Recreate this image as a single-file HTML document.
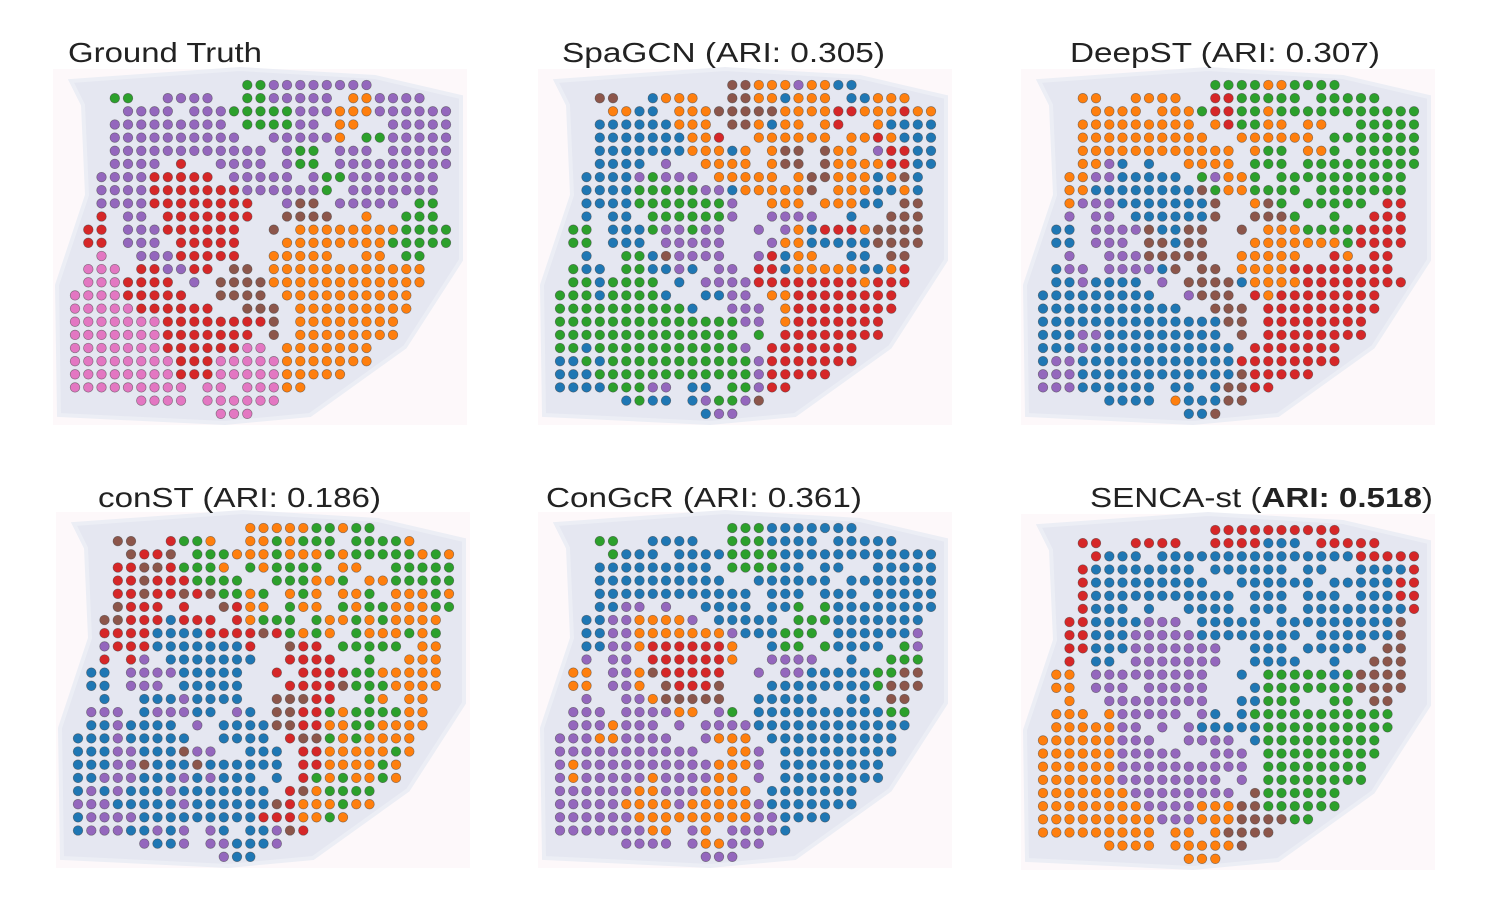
<!DOCTYPE html>
<html><head><meta charset="utf-8"><style>
html,body{margin:0;padding:0;background:#fff;width:1501px;height:898px;overflow:hidden}
svg{display:block}
text{font-family:"Liberation Sans",Arial,sans-serif;fill:#222}
</style></head><body>
<svg id="fig" width="1501" height="898" viewBox="0 0 1501 898" xmlns="http://www.w3.org/2000/svg">
<g id="titles">
<text x="68" y="62" font-size="28" textLength="194" lengthAdjust="spacingAndGlyphs">Ground Truth</text>
<text x="562" y="62" font-size="28" textLength="323" lengthAdjust="spacingAndGlyphs">SpaGCN (ARI: 0.305)</text>
<text x="1070" y="62" font-size="28" textLength="310" lengthAdjust="spacingAndGlyphs">DeepST (ARI: 0.307)</text>
<text x="98" y="507" font-size="28" textLength="283" lengthAdjust="spacingAndGlyphs">conST (ARI: 0.186)</text>
<text x="546" y="507" font-size="28" textLength="316" lengthAdjust="spacingAndGlyphs">ConGcR (ARI: 0.361)</text>
<text x="1090" y="507" font-size="28" textLength="343" lengthAdjust="spacingAndGlyphs">SENCA-st (<tspan font-weight="bold">ARI: 0.518</tspan>)</text>
</g>
</svg>
<script>
const palette = {b:'#1f77b4',o:'#ff7f0e',g:'#2ca02c',r:'#d62728',p:'#9467bd',n:'#8c564b',k:'#e377c2'};
const panelNames = ['ground-truth','spagcn','deepst','const','congcr','senca-st'];
const groundTruth = [
".............ggpppppppp......",
"...gg..pppp..ggppppp.oopppp...",
"....pppp.pppgggggpppooopppppp",
"...ppppppppp.ggggpp.oo..ppppp",
"...pppppppppp..pppppo.ggppppp",
"...pppppppppppp.pgg.ppp.ppppp",
"...pppp.r..pppp.pgg.ppppppppp",
"..pppprrrrr.ppppp.pggppppppp.",
"..pppprrrrrrrppppppg.ppppppp.",
"..pppprrrrrrrr..pnn.ppppp.gg.",
"..r.pp.rrrrrrr..nnnn..o..ggg.",
".rr.ppprrrrrr..n.oooooooogggg.",
".rr.ppp.rrrrr...ooooooooggggg",
"..k..ppprrrrr..ooooo..oo.gg..",
".kkk.rrpprr.nn.oooooooooooo..",
".kkkrrrr.p.nnnnoooooooooooo..",
"kkkkrrrrr..nnnn.oooooooooo...",
"kkkkkrrrrrr..nnn.ooooooooo...",
"kkkkkkkrrrrrrrrn.oooooooo....",
"kkkkkkkrrrrrrr.n.oooooooo....",
"kkkkkkkrrrrrrkk.ooooooo......",
"kkkkkkkkrrrkkkkkooooooo......",
"kkkkkkkkrrrkkkkkooooo........",
"kkkkkkkkk.kk.kkkoo...........",
".....kkkk.kkkkkk.............",
"...........kkk..............."];
const spagcn = [
".............nnooopoobb......",
"...nn..booo..nnoobooo.bbooo...",
"....oobb.ooonnnnnoooorroooroo",
"...bbbbbbooo.nnoboo.or..obbbb",
"...bbbbbbboor..oooooo.oorobbb",
"...bbbbbbbooobo.onn.noo.prrbb",
"...bbbb.p..oooo.onn.noooorrbb",
"..bbbbpgppp.ooooo.onnooobonb.",
"..bbbbgggggppbooooon.ooobbob.",
"..bbbbgggggggp..ooo.ooobb.nn.",
"..b.bb.ggggggp..pppp..b..nnn.",
".gg.bbbgppgpp..p.pobrrronnnn.",
".gg.bbb.ppppp...poobbbbbnnnn.",
"..b..ggbnpppp..prboo..bb.nn..",
".gbb.ggbbpb.pp.rrbooooobbor..",
".ggbgggg.b.pppprrrrrrrrorrr..",
"gggbggggb..bbpp.oorrrrrrrr...",
"ggggggggggb..ppp.orrrrrrrr...",
"ggggggggggggggpp.orrrrrrr....",
"gggggggggggggg.g.rrrrrrrr....",
"ggbgggggggggggp.rrrrrrr......",
"bbgbgggggggggggprrrrrrr......",
"bbbggggggggggggprrrrr........",
"bbbbgggpp.bb.ggprr...........",
".....bgbb.bpggpn.............",
"...........bpp..............."];
const deepst = [
".............ggggoogggg......",
"...oo..oooo..rrggggg.ggggg...",
"....oooo.ooogrrggoggggggggggg",
"...ooooooooo.orggoo.oo..ggggg",
"...oooooooooo..oooooo.ggggggg",
"...oooooooooooo.ogg.oog.ggggg",
"...oopb.b..oooo.ggg.ggggggggg",
"..ooppbbbbb.gpoog.gggggggggg.",
"..oobbbbbbbbngoogggg.ggggggg.",
"..opppbbbbbbbn..ong.ggggg.rr.",
"..p.pp.bbbbbbn..nnng..g..rrr.",
".bb.ppppnbbnn..n.oooggggrrrr.",
".bb.ppp.nnbnn...ooooooogrrrr.",
"..p..pppnnnnn..ooooo..ro.rr..",
".bpp.ppppbn.nn.oooorrrrrrrr..",
".bbpbbbb.p.nnnnboooorrrrrrrr..",
"bbbbbbbbb..pnnn.rorrrrrrrr...",
"bbbbbbbbbbb..nnn.rrrrrrrrr...",
"bbbbbbbbbbbbbbnn.rrrrrrrr....",
"bbbppbbbbbbbbb.n.rrrrrrrr....",
"bbbpbbbbbbbbbbb.rrrrrrr......",
"bppbbbbbbbbbbbbrrrrrrrr......",
"pppbbbbbbbbbbbbnrrrrr........",
"pppbbbbbb.bb.bnnrr...........",
".....bbbb.obbbnn.............",
"...........bbn..............."];
const conST = [
".............oooooggogg......",
"...nn..rggo..oogoggg.ggggo...",
"....nrrn.gggooogooogogggggogo",
"...rrnnrgggo.gogggg.oo..ggggg",
"...rrnrrrgggg..gggoog.ooggggg",
"...rrnrrnrnggog.ogo.oog.ooogo",
"...nrrr.r..nroo.goo.goggooogg",
"..nnrrrbrrr.roggg.googogoooo.",
"..rrrrbbbbrrrrnrgogo.gooogog.",
"..prrrbbbbbbbr..nrr.ggggg.oo.",
"..r.rp.bbbbbbb..rrrr..g..ooo.",
".bb.ppppbbbbb..r.rrrrggooooo.",
".bb.ppp.bbbbb...rrrrngggoooo.",
"..b..bbbpbbbb..nnnrr..go.oo..",
".ppp.bpppbb.pb.nnrrgoggggoo..",
".bbpbbbb.p.bbbbnnrrooggoooo..",
"bbbpbbbbb..bbbb.rnngogoooo...",
"bbbppbbbnpp..bbb.rrooooogo...",
"bbbppnbbbnbbbbbb.rroooogo....",
"bbpppbbbpbpbbb.b.rgogoogo....",
"bpbpbbbpbbbbbbb.rnogggg......",
"pppbbbbbpbbbbbbnrooogoo......",
"bppppbbbbbbbbbrrroogo........",
"bpppbbpbp.pb.bbpnr...........",
".....pbbp.ppbbbp.............",
"...........pbb..............."];
const conGcR = [
".............gggbbbbbbb......",
"...gg..bbbb..gggbbbb.bbbbb...",
"....gbbb.bbbbggggbbbbbbbbbbbb",
"...bbbbbbbbb.ggggbb.bb..bbbbb",
"...bbbbbbbbbb..bbbbbb.bbbbbbb",
"...bbbbbbbbbbbb.bbb.bbb.bbbbb",
"...bbpp.p..bbbb.bbg.gbbbbbbbb",
"..bbppoooop.bbbbb.gggbbbbbbb.",
"..bbppooooooopbbbggg.bbbbbbp.",
"..bbpporrrrrro..bgg.gbbbb.gp.",
"..p.pp.rrrrrro..pppp..b..ggg.",
".oo.pponrrrrr..p.ppbbbbbggnn.",
".oo.ppo.nrrrn...bbbbbbbbgnnn.",
"..p..pponnnnn..bbbbb..bb.nn..",
".ppp.ppppoo.pg.bbbbbbbbbbgg..",
".pppoppp.p.ppppbbbbbbbbbbbb..",
"pppoopppp..pooo.bbbbbbbbbb...",
"ppppppppppp..oop.bbbbbbbbb...",
"poppppppppppooop.bbbbbbbb....",
"popppppoppppoo.p.bbbbbbbb....",
"ppppppoopppoooo.bbbbbbb......",
"pppppoooopooooopbbbbbbb......",
"ppppppoooooooooppbbbb........",
"pppppppoo.po.ppppb...........",
".....pppp.pooppp.............",
"...........ppp..............."];
const sencaST = [
".............rrrrrrrrrr......",
"...rr..rrrr..rrrrbbb.rrrrr...",
"....rbbb.bbbbbbbbbbbbbbbrrrrr",
"...rbbbbbbbb.bbbbbb.bb..bbbbr",
"...rbbbbbbbbb..bbbbbb.bbbbbrr",
"...rbbbbbbbbbbb.bbb.bbb.bbbrr",
"...rbbb.b..bbbb.bbb.bbbbbbbbr",
"..rrbbbbppp.bbbbb.bbbbbbbbbn.",
"..rrbbbpppppbbbbbbbb.bbbbbbn.",
"..rrbbbppppppp..bbb.bbbbb.nn.",
"..r.bb.ppppppp..bbbb..b..nnn.",
".oo.ppppppppp..b.gggggbgnnnn.",
".oo.ppp.ppppp...bgggggggnnnn.",
"..o..pppppppp..bbggg..gg.nn..",
".ooo.oppppp.pb.bggggggggggg..",
".ooooopp.p.pbbbbbgggggggggg..",
"ooooooppp..pppp.bggggggggg...",
"ooooooppppp..ppp.ggggggggg...",
"oooooopppppppppp.gggggggg....",
"oooooopppppppp.p.gggggggg....",
"ooooooopppppppp.ngggggg......",
"ooooooooppppooonngggggg......",
"ooooooooopppooonnnngg........",
"ooooooooo.oo.onnnn...........",
".....oooo.ooooon.............",
"...........ooo..............."];
const panelData = [groundTruth, spagcn, deepst, conST, conGcR, sencaST];

const NS = 'http://www.w3.org/2000/svg';
const svg = document.getElementById('fig');
const origins = [[75,85],[560,85],[1043,85],[78,528],[560,528],[1043,530]];
const dx = 13.25, dy = 13.15, rad = 4.8;
const xScale = (c, p) => origins[p][0] + c * dx;
const yScale = (r, p) => origins[p][1] + r * dy;
const tissue = [[-4,-4],[80,-10],[165,-16],[300,-8],[386,12],[386,175],[330,262],[235,330],[150,338],[-16,330],[-18,200],[12,110],[8,20]];

panelData.forEach((rows, p) => {
  const g = document.createElementNS(NS, 'g');
  
  
  const [ox, oy] = origins[p];
  const bg = document.createElementNS(NS, 'rect');
  
  
  bg.setAttribute('x', ox - 22); bg.setAttribute('y', oy - 16);
  bg.setAttribute('width', 414); bg.setAttribute('height', 356);
  bg.setAttribute('fill', '#fdf8fa');
  g.appendChild(bg);
  const poly = document.createElementNS(NS, 'polygon');
  
  
  poly.setAttribute('points', tissue.map(t => (ox + t[0]) + ',' + (oy + t[1])).join(' '));
  poly.setAttribute('fill', '#e5e7f1');
  poly.setAttribute('stroke', '#eceef5');
  poly.setAttribute('stroke-width', '4');
  g.appendChild(poly);
  rows.forEach((row, r) => {
    for (let c = 0; c < Math.min(row.length, 29); c++) {
      const ch = row[c];
      if (!palette[ch]) continue;
      const dot = document.createElementNS(NS, 'circle');
      
      
      dot.setAttribute('cx', xScale(c, p).toFixed(1));
      dot.setAttribute('cy', yScale(r, p).toFixed(1));
      dot.setAttribute('r', rad);
      dot.setAttribute('fill', palette[ch]);
      dot.setAttribute('stroke', 'rgba(60,60,60,0.55)');
      dot.setAttribute('stroke-width', '0.7');
      g.appendChild(dot);
    }
  });
  svg.insertBefore(g, svg.firstChild);
});
</script>
</body></html>
